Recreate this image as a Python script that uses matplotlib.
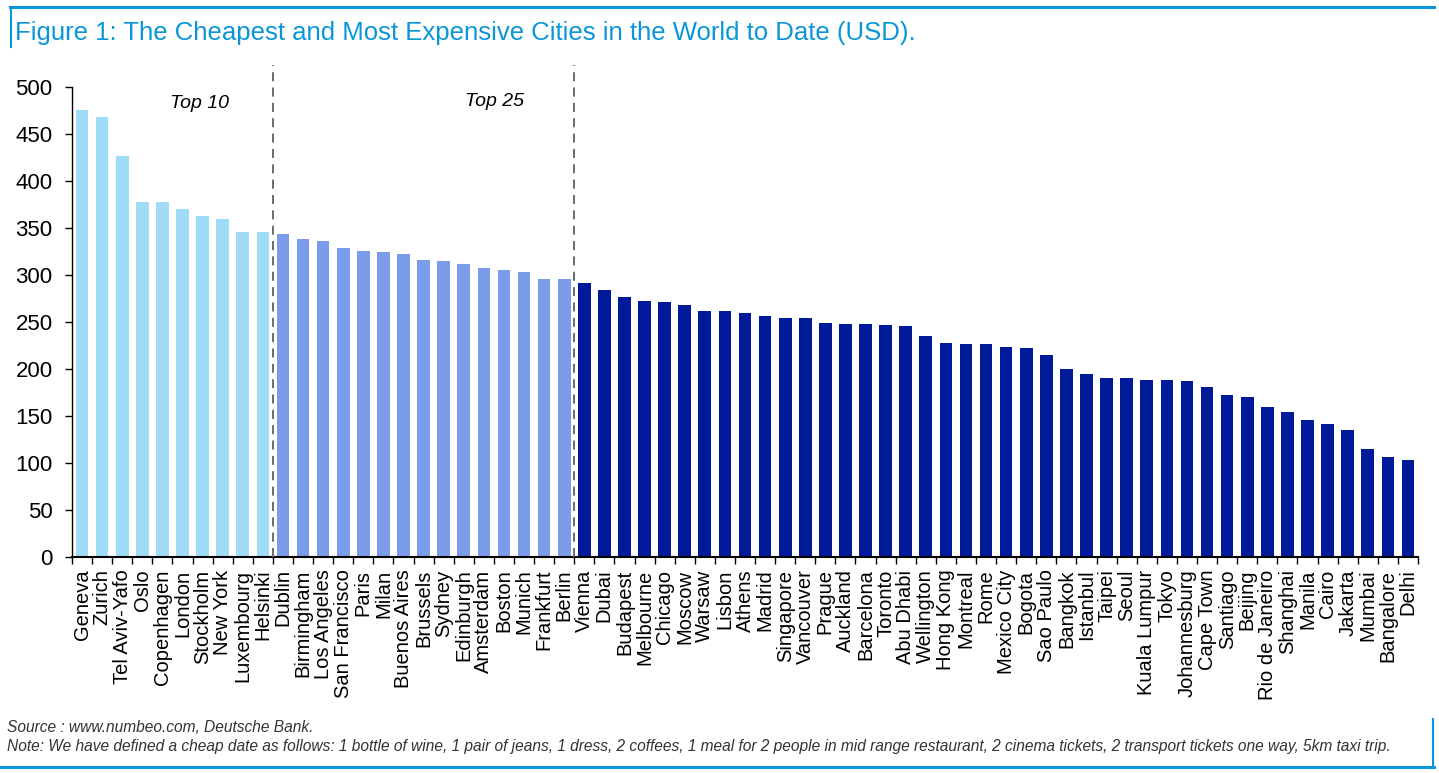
import numpy as np
import matplotlib
matplotlib.use('Agg')
import matplotlib.pyplot as plt
from matplotlib.lines import Line2D

plt.rcParams['font.family'] = ['Liberation Sans', 'DejaVu Sans']

# data (USD, cost of a cheap date)
top10_cities = ['Geneva', 'Zurich', 'Tel Aviv-Yafo', 'Oslo', 'Copenhagen', 'London',
                'Stockholm', 'New York', 'Luxembourg', 'Helsinki']
top10_values = [475, 468, 426, 377, 377, 370, 362, 359, 345, 345]

top25_cities = ['Dublin', 'Birmingham', 'Los Angeles', 'San Francisco', 'Paris', 'Milan',
                'Buenos Aires', 'Brussels', 'Sydney', 'Edinburgh', 'Amsterdam', 'Boston',
                'Munich', 'Frankfurt', 'Berlin']
top25_values = [343, 338, 336, 328, 325, 324, 322, 316, 315, 311, 307, 305, 303, 296, 295]

rest_cities = ['Vienna', 'Dubai', 'Budapest', 'Melbourne', 'Chicago', 'Moscow', 'Warsaw',
               'Lisbon', 'Athens', 'Madrid', 'Singapore', 'Vancouver', 'Prague', 'Auckland',
               'Barcelona', 'Toronto', 'Abu Dhabi', 'Wellington', 'Hong Kong', 'Montreal',
               'Rome', 'Mexico City', 'Bogota', 'Sao Paulo', 'Bangkok', 'Istanbul', 'Taipei',
               'Seoul', 'Kuala Lumpur', 'Tokyo', 'Johannesburg', 'Cape Town', 'Santiago',
               'Beijing', 'Rio de Janeiro', 'Shanghai', 'Manila', 'Cairo', 'Jakarta',
               'Mumbai', 'Bangalore', 'Delhi']
rest_values = [291, 284, 276, 272, 271, 268, 262, 261, 259, 256, 254, 254, 249, 248,
               248, 247, 246, 235, 228, 226, 226, 223, 222, 215, 200, 195, 190,
               190, 188, 188, 187, 181, 172, 170, 159, 154, 146, 141, 135,
               115, 106, 103]

yticks = [0, 50, 100, 150, 200, 250, 300, 350, 400, 450, 500]

title = 'Figure 1: The Cheapest and Most Expensive Cities in the World to Date (USD).'
source = 'Source : www.numbeo.com, Deutsche Bank.'
note = ('Note: We have defined a cheap date as follows: 1 bottle of wine, 1 pair of jeans, '
        '1 dress, 2 coffees, 1 meal for 2 people in mid range restaurant, 2 cinema tickets, '
        '2 transport tickets one way, 5km taxi trip.')

W, H = 1439, 773
fig = plt.figure(figsize=(W / 100, H / 100), dpi=100)


def px(x, y):
    # pixel (from top-left) -> figure fraction
    return x / W, 1 - y / H


ax_l, ax_r, ax_b, ax_t = 72, 1418, 557, 65
ax = fig.add_axes([ax_l / W, 1 - ax_b / H, (ax_r - ax_l) / W, (ax_b - ax_t) / H])

cities = top10_cities + top25_cities + rest_cities
values = top10_values + top25_values + rest_values
colors = (['#A0DCF8'] * len(top10_cities) + ['#7B9CEA'] * len(top25_cities)
          + ['#001A9A'] * len(rest_cities))
x = np.arange(len(cities))

ax.bar(x, values, width=0.63, color=colors, zorder=2)

ax.set_xlim(-0.5, len(cities) - 0.5)
ax.set_ylim(0, 523)
ax.set_yticks(yticks)
ax.tick_params(axis='y', labelsize=16, length=5, width=1, direction='out', pad=9)

ax.set_xticks(x)
ax.set_xticklabels(cities, rotation=90, fontsize=14.5)
ax.tick_params(axis='x', which='major', length=0, pad=9)
ax.set_xticks(np.arange(len(cities) + 1) - 0.5, minor=True)
ax.tick_params(axis='x', which='minor', length=5, width=1, direction='out')

for s in ['top', 'right']:
    ax.spines[s].set_visible(False)
ax.spines['left'].set_bounds(0, 500)
ax.spines['left'].set_linewidth(1)
ax.spines['bottom'].set_linewidth(1.5)

# group separators
b1 = len(top10_cities) - 0.5
b2 = len(top10_cities) + len(top25_cities) - 0.5
for b in (b1, b2):
    ax.axvline(b, color='#606060', linestyle=(0, (5, 3.5)), linewidth=1.3, zorder=3)

ax.text((-0.5 + b1) / 2 + 1.35, 482, 'Top 10', style='italic', fontsize=14,
        ha='center', va='center')
ax.text((b1 + b2) / 2 + 3.55, 484, 'Top 25', style='italic', fontsize=14,
        ha='center', va='center')

# title and frame lines
blue = '#0A96D8'
fig.text(*px(15, 33), title, color=blue, fontsize=18.5, ha='left', va='center')
fig.add_artist(Line2D([10 / W, 1434 / W], [1 - 7 / H, 1 - 7 / H], color=blue, linewidth=2.2))
fig.add_artist(Line2D([11 / W, 11 / W], [1 - 7 / H, 1 - 47 / H], color=blue, linewidth=1.5))
fig.add_artist(Line2D([0, 1434 / W], [1 - 767 / H, 1 - 767 / H], color=blue, linewidth=2.2))
fig.add_artist(Line2D([1433 / W, 1433 / W], [1 - 719 / H, 1 - 767 / H], color=blue, linewidth=1.5))

# footer
fig.text(*px(7, 728), source, style='italic', fontsize=11.2, color='#333333',
         ha='left', va='center')
fig.text(*px(7, 746), note, style='italic', fontsize=11.2, color='#333333',
         ha='left', va='center')

fig.savefig('out.png', dpi=100)
